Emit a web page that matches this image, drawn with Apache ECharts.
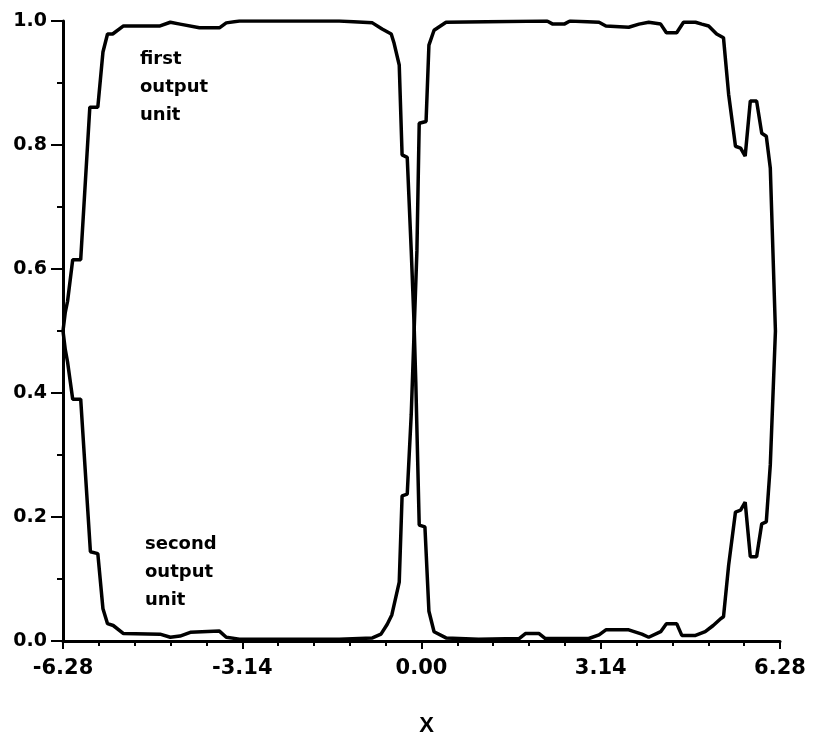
<!DOCTYPE html>
<html>
<head>
<meta charset="utf-8">
<script src="https://cdn.jsdelivr.net/npm/echarts@6/dist/echarts.min.js"></script>
<style>
  html, body { margin: 0; padding: 0; background: #fff; }
  #chart { width: 822px; height: 743px; }
</style>
</head>
<body>
<div id="chart"></div>
<script>
// first output unit
const firstX = [-6.28, -6.24, -6.20, -6.11, -5.97, -5.81, -5.67, -5.58, -5.50, -5.41, -5.22, -4.58, -4.40, -4.23, -3.89, -3.54, -3.42, -3.19, -1.44, -0.86, -0.69, -0.53, -0.48, -0.39, -0.34, -0.25, -0.18, -0.13, -0.10, -0.04, 0.06, 0.13, 0.22, 0.43, 1.00, 1.71, 1.82, 2.06, 2.17, 2.93, 3.11, 3.23, 3.63, 3.86, 3.98, 4.19, 4.29, 4.47, 4.56, 4.80, 4.97, 5.11, 5.24, 5.29, 5.38, 5.50, 5.59, 5.67, 5.76, 5.87, 5.96, 6.04, 6.11, 6.20]
const firstY = [0.50, 0.53, 0.548, 0.615, 0.615, 0.861, 0.861, 0.95, 0.979, 0.979, 0.992, 0.992, 0.998, 0.995, 0.989, 0.989, 0.997, 1.0, 1.0, 0.997, 0.987, 0.979, 0.964, 0.929, 0.784, 0.78, 0.63, 0.512, 0.418, 0.187, 0.184, 0.048, 0.015, 0.005, 0.003, 0.004, 0.012, 0.012, 0.004, 0.004, 0.01, 0.018, 0.018, 0.011, 0.006, 0.015, 0.028, 0.028, 0.009, 0.009, 0.015, 0.025, 0.036, 0.039, 0.122, 0.208, 0.211, 0.224, 0.136, 0.136, 0.189, 0.192, 0.284, 0.50]

// second output unit
const secondX = [-6.28, -6.24, -6.20, -6.11, -5.97, -5.80, -5.67, -5.58, -5.50, -5.40, -5.22, -4.58, -4.40, -4.23, -4.05, -3.54, -3.42, -3.19, -1.44, -0.86, -0.71, -0.60, -0.52, -0.39, -0.34, -0.25, -0.18, -0.13, -0.08, -0.04, 0.08, 0.13, 0.22, 0.43, 2.20, 2.30, 2.50, 2.60, 3.11, 3.23, 3.63, 3.81, 3.98, 4.19, 4.29, 4.47, 4.59, 4.80, 4.91, 5.03, 5.17, 5.29, 5.38, 5.50, 5.59, 5.67, 5.76, 5.87, 5.96, 6.04, 6.11, 6.20]
const secondY = [0.50, 0.47, 0.45, 0.39, 0.39, 0.144, 0.141, 0.052, 0.028, 0.025, 0.012, 0.011, 0.006, 0.008, 0.014, 0.016, 0.006, 0.003, 0.003, 0.005, 0.011, 0.027, 0.042, 0.095, 0.234, 0.237, 0.365, 0.498, 0.63, 0.835, 0.838, 0.961, 0.985, 0.998, 1.0, 0.995, 0.995, 1.0, 0.998, 0.992, 0.990, 0.995, 0.998, 0.995, 0.981, 0.981, 0.998, 0.998, 0.995, 0.992, 0.979, 0.973, 0.882, 0.798, 0.795, 0.782, 0.871, 0.871, 0.819, 0.814, 0.763, 0.50]

const xTicks = [-6.28, -3.14, 0, 3.14, 6.28]
const yTicks = [0, 0.2, 0.4, 0.6, 0.8, 1.0]

const pairs = (xs, ys) => xs.map((x, i) => [x, ys[i]])

const chart = echarts.init(document.getElementById('chart'))
const labelFont = 'DejaVu Sans'

chart.setOption({
  animation: false,
  backgroundColor: '#fff',
  grid: { left: 63, right: 42, top: 21, bottom: 102 },
  xAxis: {
    type: 'value',
    min: xTicks[0],
    max: xTicks[xTicks.length - 1],
    interval: 3.14,
    name: 'X',
    nameLocation: 'middle',
    nameGap: 74,
    nameTextStyle: { color: '#000', fontFamily: 'Liberation Sans', fontWeight: 'bold', fontSize: 22, padding: [0, 0, 0, 10] },
    axisLine: { onZero: false, lineStyle: { color: '#000', width: 3 } },
    axisTick: { inside: false, length: 8, lineStyle: { color: '#000', width: 2 } },
    minorTick: { show: true, splitNumber: 5, length: 5, lineStyle: { color: '#000', width: 2 } },
    splitLine: { show: false },
    axisLabel: {
      margin: 17,
      color: '#000',
      fontFamily: labelFont,
      fontWeight: 'bold',
      fontSize: 21,
      formatter: v => v.toFixed(2)
    }
  },
  yAxis: {
    type: 'value',
    min: yTicks[0],
    max: yTicks[yTicks.length - 1],
    interval: 0.2,
    axisLine: { show: true, onZero: false, lineStyle: { color: '#000', width: 3 } },
    axisTick: { show: true, inside: false, length: 12, lineStyle: { color: '#000', width: 2 } },
    minorTick: { show: true, splitNumber: 2, length: 6, lineStyle: { color: '#000', width: 2 } },
    splitLine: { show: false },
    axisLabel: {
      margin: 16,
      color: '#000',
      fontFamily: labelFont,
      fontWeight: 'bold',
      fontSize: 19,
      formatter: v => v.toFixed(1)
    }
  },
  graphic: [
    {
      type: 'text',
      left: 140,
      top: 45,
      style: {
        text: 'first\noutput\nunit',
        fill: '#000',
        font: 'bold 18px "DejaVu Sans"',
        lineHeight: 28
      }
    },
    {
      type: 'text',
      left: 145,
      top: 530,
      style: {
        text: 'second\noutput\nunit',
        fill: '#000',
        font: 'bold 18px "DejaVu Sans"',
        lineHeight: 28
      }
    }
  ],
  series: [
    {
      name: 'first output unit',
      type: 'line',
      data: pairs(firstX, firstY),
      showSymbol: false,
      lineStyle: { color: '#000', width: 3.5 }
    },
    {
      name: 'second output unit',
      type: 'line',
      data: pairs(secondX, secondY),
      showSymbol: false,
      lineStyle: { color: '#000', width: 3.5 }
    }
  ]
})
</script>
</body>
</html>
